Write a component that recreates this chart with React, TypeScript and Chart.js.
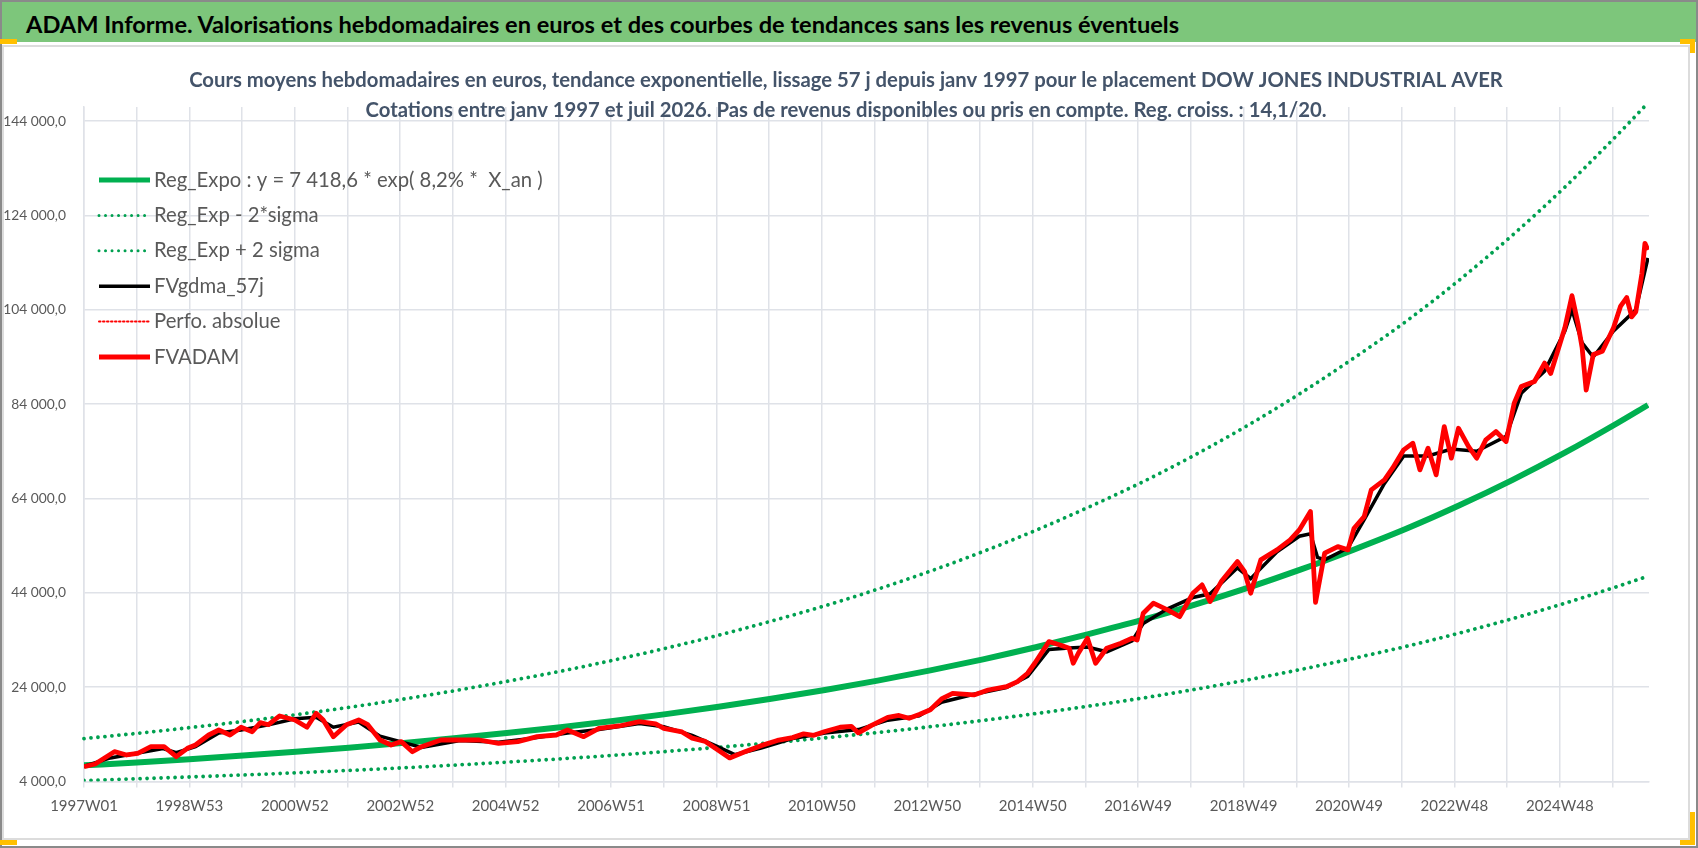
import { useEffect, useRef } from "react";
import { Chart, registerables } from "chart.js";

Chart.register(...registerables);

const PAGE_TITLE =
  "ADAM Informe. Valorisations hebdomadaires en euros et des courbes de tendances sans les revenus éventuels";
const CHART_TITLE_1 =
  "Cours moyens hebdomadaires en euros, tendance exponentielle, lissage 57 j depuis janv 1997 pour le placement DOW JONES INDUSTRIAL AVER";
const CHART_TITLE_2 =
  "Cotations entre janv 1997 et juil 2026. Pas de revenus disponibles ou pris en compte. Reg. croiss. : 14,1/20.";

const X_TICK_LABELS = [
  "1997W01", "1998W53", "2000W52", "2002W52", "2004W52", "2006W51", "2008W51", "2010W50",
  "2012W50", "2014W50", "2016W49", "2018W49", "2020W49", "2022W48", "2024W48",
];
const Y_TICKS = [4000, 24000, 44000, 64000, 84000, 104000, 124000, 144000];

const LABELS = [
  "Reg_Expo : y = 7 418,6 * exp( 8,2% *  X_an )",
  "Reg_Exp - 2*sigma",
  "Reg_Exp + 2 sigma",
  "FVgdma_57j",
  "Perfo. absolue",
  "FVADAM",
];

// week index since 1997W01
const TREND_WEEKS = [
  0, 52, 104, 157, 209, 261, 313, 365, 417, 470, 522, 574, 626, 678, 731, 783, 835, 887, 939, 991,
  1044, 1096, 1148, 1200, 1252, 1305, 1357, 1409, 1461, 1513, 1543,
];
const REG_EXPO = [
  7419, 8053, 8741, 9488, 10299, 11179, 12134, 13171, 14297, 15518, 16844, 18284, 19846, 21543,
  23384, 25382, 27551, 29905, 32461, 35235, 38246, 41514, 45062, 48913, 53093, 57630, 62555, 67901,
  73703, 80002, 83826,
];
const REG_MINUS = [
  4207, 4566, 4956, 5380, 5840, 6338, 6880, 7468, 8106, 8799, 9551, 10367, 11253, 12215, 13259,
  14392, 15621, 16956, 18405, 19978, 21685, 23538, 25550, 27734, 30104, 32676, 35469, 38500, 41790,
  45361, 47529,
];
const REG_PLUS = [
  13087, 14205, 15419, 16737, 18167, 19720, 21404, 23234, 25220, 27374, 29713, 32253, 35008, 38002,
  41249, 44774, 48600, 52752, 57261, 62155, 67466, 73231, 79489, 86283, 93656, 101659, 110347,
  119777, 130012, 141124, 147869,
];

const FVADAM_WEEKS = [
  0, 11, 30, 42, 53, 66, 79, 91, 102, 110, 123, 133, 144, 155, 166, 174, 182, 193, 208, 220, 229,
  236, 246, 259, 271, 280, 292, 303, 313, 324, 333, 352, 371, 390, 409, 428, 447, 466, 477, 493,
  508, 528, 548, 564, 572, 590, 600, 613, 624, 637, 652, 668, 684, 699, 710, 720, 731, 746, 757,
  764, 777, 793, 804, 814, 824, 835, 846, 857, 878, 892, 910, 921, 931, 938, 952, 963, 972, 976,
  981, 990, 998, 1009, 1023, 1034, 1039, 1045, 1055, 1069, 1081, 1094, 1103, 1111, 1122, 1138,
  1145, 1151, 1161, 1177, 1190, 1199, 1210, 1215, 1224, 1237, 1247, 1253, 1263, 1270, 1283, 1291,
  1302, 1311, 1318, 1326, 1334, 1342, 1349, 1356, 1366, 1374, 1383, 1393, 1403, 1411, 1418, 1431,
  1441, 1447, 1461, 1468, 1474, 1478, 1482, 1489, 1498, 1509, 1516, 1522, 1527, 1531, 1537, 1540,
  1543,
];
const FVADAM = [
  7140, 7710, 10320, 9620, 9980, 11380, 11380, 9260, 11040, 11740, 13860, 14920, 13860, 15500,
  14560, 16470, 16040, 17890, 17040, 15500, 18460, 17040, 13500, 16040, 17040, 16040, 12800,
  11740, 12450, 10320, 11380, 12800, 12800, 12800, 12100, 12450, 13500, 13860, 14920, 13500,
  15280, 15770, 16680, 16200, 15280, 14500, 13200, 12500, 10900, 9000, 10300, 11600, 12700, 13300,
  14100, 13800, 14600, 15500, 15700, 14300, 15900, 17600, 18000, 17400, 18200, 19200, 21500,
  22700, 22350, 23400, 24100, 25170, 26950, 29070, 33650, 32950, 32250, 29070, 31190, 34370,
  29070, 32250, 33310, 34370, 34010, 39670, 41800, 40370, 38950, 43920, 45680, 42140, 46380,
  50620, 48500, 43920, 50980, 53100, 55220, 57340, 61220, 42000, 52400, 53800, 53100, 57700,
  60160, 65830, 67950, 70430, 74310, 75730, 70070, 74670, 69010, 79250, 72550, 78900, 75010,
  72550, 76430, 78190, 76070, 84210, 87740, 88800, 92700, 90500, 100200, 107000, 101000, 96000,
  87000, 94500, 95200, 100200, 104800, 106600, 102500, 103600, 111700, 118100, 116700,
];

const GDMA_WEEKS = [
  0, 26, 52, 78, 91, 110, 133, 155, 182, 208, 229, 246, 271, 292, 313, 333, 371, 409, 447, 477,
  508, 548, 572, 600, 624, 642, 668, 699, 731, 764, 793, 824, 846, 878, 910, 931, 952, 972, 990,
  1009, 1034, 1045, 1069, 1094, 1111, 1138, 1151, 1177, 1199, 1210, 1217, 1224, 1247, 1263, 1283,
  1302, 1326, 1349, 1374, 1403, 1418, 1441, 1461, 1468, 1478, 1489, 1509, 1531, 1543,
];
const GDMA = [
  7200, 9000, 10000, 11000, 10100, 11400, 14300, 14900, 16000, 17300, 17600, 15500, 16600, 13600,
  12400, 11200, 12700, 12300, 13300, 14300, 15000, 16300, 15600, 13800, 11500, 9700, 11100, 13100,
  14300, 15000, 17000, 17900, 20800, 22500, 23900, 26300, 32000, 32300, 32500, 31500, 33800,
  37500, 40600, 43000, 43800, 49300, 47000, 52700, 56000, 56500, 51500, 51000, 53500, 59500,
  67200, 73000, 73000, 74500, 74000, 77200, 86300, 91000, 99500, 104000, 97000, 94000, 99500,
  104000, 115000,
];

const PERFO_WEEKS: number[] = [];
const PERFO: number[] = [];

const X_MAX_WEEK = 1544;
const Y_MIN = 4000;
const Y_MAX = 147000;

const FONT = "Lato, 'Liberation Sans', sans-serif";
const TEXT_GREY = "#595959";
const GRID = "#dfe2e8";

const pts = (xs: number[], ys: number[]) => xs.map((x, i) => ({ x, y: ys[i] }));

const fmtY = (v: number) => {
  const th = Math.floor(v / 1000);
  const rest = String(v % 1000).padStart(3, "0");
  return (th > 0 ? th + " " + rest : String(v)) + ",0";
};

const titlePlugin = {
  id: "chartTitle",
  afterDraw(chart: any) {
    const ctx = chart.ctx;
    ctx.save();
    ctx.fillStyle = "#44546a";
    ctx.font = "bold 20.3px " + FONT;
    ctx.textAlign = "center";
    ctx.textBaseline = "alphabetic";
    ctx.fillText(CHART_TITLE_1, 846, 87);
    ctx.fillText(CHART_TITLE_2, 846, 117);
    ctx.restore();
  },
};

const legendPlugin = {
  id: "insideLegend",
  afterDatasetsDraw(chart: any) {
    const ctx = chart.ctx;
    ctx.save();
    chart.data.datasets.forEach((ds: any, i: number) => {
      const y = 180 + i * 35.4;
      ctx.beginPath();
      ctx.strokeStyle = ds.borderColor;
      ctx.lineWidth = ds.legendWidth;
      ctx.setLineDash(ds.legendDash || []);
      ctx.lineCap = ds.legendDash ? "round" : "butt";
      ctx.moveTo(99, y);
      ctx.lineTo(150, y);
      ctx.stroke();
      ctx.setLineDash([]);
      ctx.fillStyle = TEXT_GREY;
      ctx.font = "20.3px " + FONT;
      ctx.textAlign = "left";
      ctx.textBaseline = "middle";
      ctx.fillText(ds.label, 154, y);
    });
    ctx.restore();
  },
};

export default function App() {
  const ref = useRef<HTMLCanvasElement | null>(null);

  useEffect(() => {
    document.body.style.margin = "0";
    const canvas = ref.current;
    if (!canvas) return;
    const dotted = { borderDash: [0.01, 7], borderCapStyle: "round" as const };
    const chart = new Chart(canvas, {
      type: "line",
      data: {
        datasets: [
          {
            label: LABELS[0],
            data: pts(TREND_WEEKS, REG_EXPO),
            borderColor: "#00b050",
            borderWidth: 6,
            pointRadius: 0,
            cubicInterpolationMode: "monotone",
            order: 3,
            legendWidth: 5,
          } as any,
          {
            label: LABELS[1],
            data: pts(TREND_WEEKS, REG_MINUS),
            borderColor: "#00a050",
            borderWidth: 3.8,
            pointRadius: 0,
            cubicInterpolationMode: "monotone",
            ...dotted,
            order: 4,
            legendWidth: 3,
            legendDash: [0.01, 6.5],
          } as any,
          {
            label: LABELS[2],
            data: pts(TREND_WEEKS, REG_PLUS),
            borderColor: "#00a050",
            borderWidth: 3.8,
            pointRadius: 0,
            cubicInterpolationMode: "monotone",
            ...dotted,
            order: 5,
            clip: false,
            legendWidth: 3,
            legendDash: [0.01, 6.5],
          } as any,
          {
            label: LABELS[3],
            data: pts(GDMA_WEEKS, GDMA),
            borderColor: "#000000",
            borderWidth: 3.5,
            pointRadius: 0,
            order: 1,
            legendWidth: 3.5,
          } as any,
          {
            label: LABELS[4],
            data: pts(PERFO_WEEKS, PERFO),
            borderColor: "#ff0000",
            borderWidth: 1.5,
            pointRadius: 0,
            borderDash: [2, 2],
            order: 2,
            legendWidth: 2,
            legendDash: [1.5, 2.5],
          } as any,
          {
            label: LABELS[5],
            data: pts(FVADAM_WEEKS, FVADAM),
            borderColor: "#ff0000",
            borderWidth: 4.8,
            borderJoinStyle: "round",
            pointRadius: 0,
            order: 0,
            legendWidth: 4.8,
          } as any,
        ],
      },
      options: {
        animation: false,
        responsive: false,
        events: [],
        layout: { padding: { top: 107, right: 49, left: 0, bottom: 0 } },
        plugins: { legend: { display: false }, tooltip: { enabled: false }, title: { display: false } },
        scales: {
          x: {
            type: "linear",
            min: 0,
            max: X_MAX_WEEK,
            afterBuildTicks: (axis: any) => {
              const t: any[] = [];
              for (let w = 0; w <= X_MAX_WEEK; w += 52) t.push({ value: w });
              axis.ticks = t;
            },
            afterFit: (scale: any) => {
              scale.height = 66.5;
            },
            grid: { color: GRID, lineWidth: 1.5, tickLength: 6, drawTicks: true },
            border: { display: true, color: GRID, width: 1.5 },
            ticks: {
              autoSkip: false,
              maxRotation: 0,
              minRotation: 0,
              padding: 10,
              color: TEXT_GREY,
              font: { family: FONT, size: 15 },
              callback: (v: any) => {
                const n = Number(v);
                return n % 104 === 0 ? X_TICK_LABELS[n / 104] ?? "" : "";
              },
            },
          },
          y: {
            type: "linear",
            min: Y_MIN,
            max: Y_MAX,
            afterBuildTicks: (axis: any) => {
              axis.ticks = Y_TICKS.map((v) => ({ value: v }));
            },
            afterFit: (scale: any) => {
              scale.width = 84;
            },
            grid: { color: GRID, lineWidth: 1.5, drawTicks: false },
            border: { display: true, color: GRID, width: 1.5 },
            ticks: {
              padding: 18,
              color: TEXT_GREY,
              font: { family: FONT, size: 13.8 },
              callback: (v: any) => fmtY(Number(v)),
            },
          },
        },
      },
      plugins: [titlePlugin, legendPlugin],
    });
    return () => chart.destroy();
  }, []);

  const yellow = "#ffc000";
  const box = (s: any) => ({ position: "absolute" as const, pointerEvents: "none" as const, ...s });

  return (
    <div
      style={{
        position: "fixed",
        left: 0,
        top: 0,
        width: 1698,
        height: 848,
        background: "#ffffff",
        overflow: "hidden",
      }}
    >
      <canvas ref={ref} width={1698} height={848} style={{ position: "absolute", left: 0, top: 0 }} />
      <div
        style={box({
          left: 0,
          top: 2,
          width: 1698,
          height: 40,
          background: "#7dc67b",
          color: "#000",
          font: "bold 23.6px " + FONT,
          lineHeight: "44px",
          paddingLeft: 26,
          boxSizing: "border-box",
          whiteSpace: "nowrap",
        })}
      >
        {PAGE_TITLE}
      </div>
      <div
        style={box({
          left: 2,
          top: 45,
          width: 1688,
          height: 795,
          border: "2px solid #dcdcdc",
          boxSizing: "border-box",
        })}
      />
      <div
        style={box({
          left: 0,
          top: 0,
          width: 1698,
          height: 848,
          border: "2px solid #8a8a8a",
          boxSizing: "border-box",
        })}
      />
      <div style={box({ left: 0, top: 39, width: 17, height: 5, background: yellow })} />
      <div style={box({ left: 1680, top: 39, width: 15, height: 5, background: yellow })} />
      <div style={box({ left: 1690, top: 39, width: 5, height: 14, background: yellow })} />
      <div style={box({ left: 1690, top: 812, width: 5, height: 33, background: yellow })} />
      <div style={box({ left: 1680, top: 840, width: 15, height: 5, background: yellow })} />
      <div style={box({ left: 0, top: 840, width: 17, height: 5, background: yellow })} />
    </div>
  );
}
